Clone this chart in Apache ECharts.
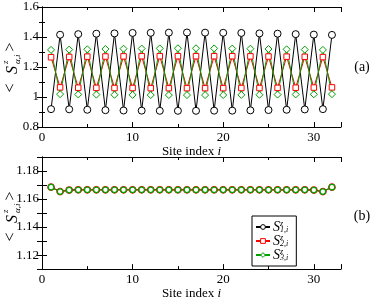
<!DOCTYPE html>
<html><head><meta charset="utf-8">
<script src="https://cdn.jsdelivr.net/npm/echarts@6/dist/echarts.min.js"></script>
<style>html,body{margin:0;padding:0;background:#fff}#c{width:374px;height:301px}</style>
</head><body><div id="c"></div>
<script>
const sites = [1,2,3,4,5,6,7,8,9,10,11,12,13,14,15,16,17,18,19,20,21,22,23,24,25,26,27,28,29,30,31,32];
// panel (a)
const s1a = [0.919,1.415,0.918,1.419,0.915,1.422,0.912,1.424,0.910,1.427,0.909,1.428,0.908,1.429,0.908,1.430,
             0.908,1.429,0.909,1.428,0.909,1.427,0.911,1.424,0.913,1.422,0.915,1.419,0.917,1.416,0.919,1.414];
const s2a = [1.265,1.064,1.267,1.062,1.269,1.061,1.270,1.060,1.271,1.060,1.272,1.059,1.272,1.059,1.272,1.059,
             1.272,1.059,1.272,1.059,1.272,1.060,1.271,1.060,1.270,1.061,1.269,1.062,1.268,1.063,1.266,1.064];
const s3a = [1.314,1.019,1.316,1.017,1.318,1.016,1.320,1.015,1.322,1.014,1.323,1.013,1.324,1.013,1.325,1.013,
             1.325,1.013,1.324,1.013,1.323,1.014,1.322,1.015,1.320,1.016,1.318,1.017,1.316,1.018,1.314,1.019];
// panel (b)
const s1b = [1.1685,1.1653,1.1664,1.1666,1.1666,1.1666,1.1666,1.1666,1.1666,1.1666,1.1666,1.1666,1.1666,1.1666,1.1666,1.1666,
             1.1666,1.1666,1.1666,1.1666,1.1666,1.1666,1.1666,1.1666,1.1666,1.1666,1.1666,1.1666,1.1666,1.1664,1.1653,1.1685];
const s2b = s1b.slice();
const s3b = s1b.slice();
const yTicksA = [0.8, 1.0, 1.2, 1.4, 1.6];
const yTicksB = [1.12, 1.14, 1.16, 1.18];
const xTicks = [0, 10, 20, 30];

const FONT = "'Liberation Serif','Times New Roman',serif";
const names = ['S1','S2','S3'];
const colors = ['#000000','#ff0000','#00a000'];
const symbolsA = ['circle','rect','diamond'];
const sizesA = [7,5.5,7];
const symbolsB = ['circle','circle','circle'];
const sizesB = [5,6.5,5.5];

function pair(xs, ys){ return xs.map((x,i)=>[x, ys[i]]); }

const tickStyle = {inside:true, length:5, lineStyle:{color:'#000', width:1}};
const minorStyle = {show:true, splitNumber:2, length:3, lineStyle:{color:'#000', width:1}};
const lineAx = {show:true, lineStyle:{color:'#000', width:1}};

function xAx(grid, pos, labels){
  return {type:'value', gridIndex:grid, position:pos, min:0, max:33, interval:10,
    axisLine:lineAx, axisTick:tickStyle, minorTick:minorStyle, splitLine:{show:false},
    axisLabel:{show:labels, showMaxLabel:false, fontFamily:FONT, fontSize:13, color:'#000', margin:4,
      formatter:v=> xTicks.includes(v) ? String(v) : ''},
    name: labels ? '{a|Site index }{b|i}' : '', nameLocation:'middle', nameGap:17,
    nameTextStyle:{rich:{a:{fontFamily:FONT,fontSize:13,color:'#000'},b:{fontFamily:FONT,fontSize:13,fontStyle:'italic',color:'#000'}}}
  };
}
function yAxA(pos, labels){
  return {type:'value', gridIndex:0, position:pos, min:0.8, max:1.6, interval:0.2,
    axisLine:lineAx, axisTick:tickStyle, minorTick:minorStyle, splitLine:{show:false},
    axisLabel:{show:labels, fontFamily:FONT, fontSize:13, color:'#000', margin:3,
      formatter:v=>{const r=Math.round(v*10)/10; return yTicksA.some(t=>Math.abs(t-r)<1e-9)? String(r):'';}}};
}
function yAxB(pos, labels){
  return {type:'value', gridIndex:1, position:pos, min:1.11, max:1.19, interval:0.01,
    axisLine:lineAx, axisTick:tickStyle, minorTick:{show:false}, splitLine:{show:false},
    axisLabel:{show:labels, fontFamily:FONT, fontSize:13, color:'#000', margin:3,
      formatter:v=>{const r=Math.round(v*100)/100; return yTicksB.some(t=>Math.abs(t-r)<1e-9)? r.toFixed(2):'';}}};
}

const series = [];
[s1a,s2a,s3a].forEach((d,k)=>series.push({name:names[k], type:'line', xAxisIndex:0, yAxisIndex:0,
  data:pair(sites,d), symbol:symbolsA[k], symbolSize:sizesA[k], showAllSymbol:true, legendIcon:symbolsA[k],
  lineStyle:{color:colors[k], width:1}, itemStyle:{color:'#fff', borderColor:colors[k], borderWidth:1}, animation:false}));
[s1b,s2b,s3b].forEach((d,k)=>series.push({name:names[k], type:'line', xAxisIndex:2, yAxisIndex:2,
  data:pair(sites,d), symbol:symbolsB[k], symbolSize:sizesB[k], showAllSymbol:true, legendIcon:symbolsA[k],
  lineStyle:{color:colors[k], width:1}, itemStyle:{color:'#fff', borderColor:colors[k], borderWidth:1.2}, animation:false}));

function yLabel(cy){
  const base = {fill:'#000', align:'center', verticalAlign:'middle'};
  const t = (x,y,text,font,al)=>({type:'text', x:x, y:y, style:Object.assign({}, base, {text:text, font:font}, al?{align:al}:{})});
  return {type:'group', x:12, y:cy, rotation:Math.PI/2, children:[
    t(-21, -1, '<', '16px '+FONT),
    t(-3, 1, 'S', 'italic 16px '+FONT),
    t(3, -6, 'z', 'italic 9px '+FONT, 'left'),
    t(3, 6, 'α,i', 'italic 9px '+FONT, 'left'),
    t(20, -1, '>', '16px '+FONT)
  ]};
}

const legSub = {S1:'1,i', S2:'2,i', S3:'3,i'};
const option = {
  backgroundColor:'#fff',
  animation:false,
  grid:[{left:42, right:33, top:7, height:120},{left:42, right:33, top:157, height:119}],
  xAxis:[xAx(0,'bottom',true), xAx(0,'top',false), xAx(1,'bottom',true), xAx(1,'top',false)],
  yAxis:[yAxA('left',true), yAxA('right',false), yAxB('left',true), yAxB('right',false)],
  legend:{data:names, orient:'vertical', left:252, top:216, padding:[4,8,4,3], itemGap:0,
    itemWidth:14, itemHeight:6, borderColor:'#000', borderWidth:1, backgroundColor:'#fff',
    itemStyle:{color:'#fff', borderWidth:1},
    formatter:n=>'{s|S}{sup|z}{sub|'+legSub[n]+'}',
    textStyle:{padding:[0,0,0,-2], rich:{s:{fontFamily:FONT,fontSize:14,fontStyle:'italic',color:'#000',lineHeight:14},
      sup:{fontFamily:FONT,fontSize:8,fontStyle:'italic',color:'#000',verticalAlign:'top',width:0.1,align:'left',padding:[0,0,6,0]},
      sub:{fontFamily:FONT,fontSize:8,fontStyle:'italic',color:'#000',verticalAlign:'bottom',padding:[6,0,0,0]}}}},
  graphic:[yLabel(67), yLabel(216),
    {type:'text', x:362, y:67, style:{text:'(a)', font:'14px '+FONT, fill:'#000', align:'center', verticalAlign:'middle'}},
    {type:'text', x:362, y:216, style:{text:'(b)', font:'14px '+FONT, fill:'#000', align:'center', verticalAlign:'middle'}}],
  series:series
};
const chart = echarts.init(document.getElementById('c'), null, {renderer:'canvas'});
chart.setOption(option);
</script></body></html>
